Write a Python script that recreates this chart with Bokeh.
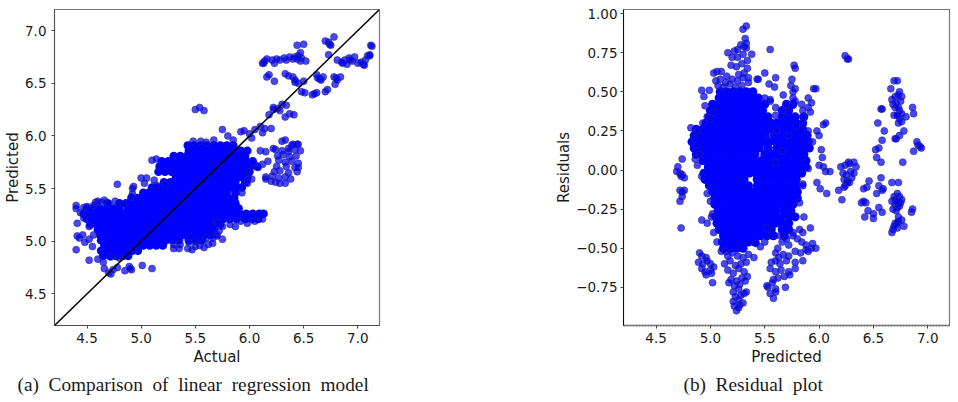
from bokeh.embed import file_html
from bokeh.resources import INLINE
from bokeh.plotting import figure
from bokeh.layouts import row
from bokeh.models import Title, FixedTicker, CustomJSTickFormatter

# ---------- panel (a): actual vs predicted ----------
a_levels = [4.86, 4.91, 4.96, 5.01, 5.06, 5.11, 5.16, 5.21, 5.26, 5.31, 5.36, 5.41, 5.46, 5.51, 5.56, 5.61, 5.66, 5.71, 5.76, 5.81, 5.86, 5.91]
a_rows = [
    [4.65, 4.71, 4.77, 4.83, 4.88],
    [4.63, 4.68, 4.74, 4.80, 4.86, 4.92, 4.97],
    [4.66, 4.72, 4.78, 4.84, 4.90, 4.96, 5.02, 5.08, 5.14, 5.20],
    [4.63, 4.69, 4.75, 4.81, 4.87, 4.93, 4.99, 5.05, 5.11, 5.17, 5.23, 5.29, 5.35, 5.44, 5.50, 5.56],
    [4.62, 4.68, 4.74, 4.80, 4.86, 4.92, 4.98, 5.04, 5.10, 5.16, 5.22, 5.28, 5.34, 5.40, 5.46, 5.52, 5.58, 5.64],
    [4.60, 4.65, 4.71, 4.77, 4.83, 4.89, 4.95, 5.01, 5.07, 5.13, 5.19, 5.25, 5.31, 5.37, 5.43, 5.49, 5.55, 5.61, 5.67],
    [4.53, 4.59, 4.65, 4.71, 4.77, 4.83, 4.89, 4.95, 5.01, 5.07, 5.13, 5.19, 5.25, 5.31, 5.37, 5.43, 5.49, 5.55, 5.61, 5.67, 5.73],
    [4.50, 4.56, 4.62, 4.68, 4.74, 4.80, 4.86, 4.92, 4.98, 5.04, 5.10, 5.16, 5.22, 5.28, 5.34, 5.40, 5.46, 5.52, 5.58, 5.64, 5.70, 5.76, 5.82, 5.88, 5.96, 6.02, 6.08],
    [4.47, 4.53, 4.59, 4.65, 4.71, 4.77, 4.83, 4.89, 4.95, 5.01, 5.07, 5.13, 5.19, 5.25, 5.31, 5.37, 5.43, 5.49, 5.55, 5.61, 5.67, 5.73, 5.79, 5.85, 5.91, 5.97, 6.03, 6.09, 6.13],
    [4.50, 4.56, 4.62, 4.68, 4.74, 4.80, 4.88, 4.94, 5.00, 5.06, 5.12, 5.18, 5.24, 5.30, 5.36, 5.42, 5.48, 5.54, 5.60, 5.66, 5.72, 5.78, 5.84, 5.90],
    [4.69, 4.80, 4.86, 4.92, 4.98, 5.04, 5.10, 5.16, 5.22, 5.28, 5.34, 5.40, 5.46, 5.52, 5.58, 5.64, 5.70, 5.76, 5.82, 5.87],
    [4.91, 4.97, 5.03, 5.09, 5.15, 5.21, 5.27, 5.33, 5.39, 5.45, 5.51, 5.57, 5.63, 5.69, 5.75, 5.81, 5.86],
    [5.02, 5.07, 5.13, 5.19, 5.25, 5.31, 5.37, 5.43, 5.49, 5.55, 5.61, 5.67, 5.73, 5.79, 5.87],
    [5.10, 5.16, 5.22, 5.28, 5.34, 5.40, 5.46, 5.52, 5.58, 5.64, 5.70, 5.76, 5.82, 5.88, 5.93],
    [5.21, 5.27, 5.33, 5.39, 5.45, 5.51, 5.57, 5.63, 5.69, 5.75, 5.81, 5.87, 5.96],
    [5.32, 5.38, 5.44, 5.50, 5.56, 5.62, 5.68, 5.74, 5.80, 5.86, 5.92, 5.98],
    [5.16, 5.22, 5.28, 5.34, 5.40, 5.46, 5.52, 5.58, 5.64, 5.70, 5.76, 5.82, 5.88, 5.94, 6.00],
    [5.17, 5.23, 5.29, 5.35, 5.41, 5.47, 5.53, 5.59, 5.65, 5.71, 5.77, 5.83, 5.89, 5.95, 6.01, 6.07],
    [5.19, 5.25, 5.31, 5.37, 5.43, 5.49, 5.55, 5.61, 5.67, 5.73, 5.79, 5.85, 5.91, 5.97, 6.03],
    [5.30, 5.36, 5.42, 5.48, 5.54, 5.60, 5.66, 5.72, 5.78, 5.84, 5.90, 5.96],
    [5.44, 5.50, 5.56, 5.62, 5.68, 5.74, 5.80, 5.86, 5.92, 5.98],
    [5.43, 5.49, 5.55, 5.61, 5.67, 5.73, 5.79, 5.85],
]
a_edge_x = [4.44, 4.47, 4.50, 4.53, 4.56, 4.47, 4.52, 4.58, 4.60, 4.56, 4.52, 4.63, 4.66, 4.70, 4.76, 4.84, 4.91, 4.93, 5.03, 5.14, 5.30, 5.36, 5.44, 5.50, 5.60, 5.66, 5.70, 5.72, 5.75, 5.82, 5.87, 5.92, 5.98, 6.05, 6.12, 5.98, 6.02, 6.05, 6.08, 6.12, 6.00, 6.03, 5.93, 5.98,
    4.40, 4.40, 4.41, 4.40, 4.43, 4.46, 4.48, 4.41, 4.52, 4.55, 4.60, 4.65, 4.72, 4.80, 4.78, 4.92, 4.92, 4.66, 4.70, 4.72, 4.74, 4.78, 4.85, 4.89, 4.91, 4.90, 5.01, 5.10,
    5.10, 5.14, 5.05, 5.00, 5.12, 5.22, 5.30, 5.35, 5.43, 5.47, 5.50, 5.54, 5.58, 5.62, 5.66, 5.70, 5.75, 5.69, 5.71, 5.48, 5.55, 5.60, 5.67, 5.75, 5.80, 5.85, 5.92, 5.95, 6.00, 6.05, 6.10, 6.14, 6.02, 6.12, 6.20,
    6.15, 6.21, 6.27, 6.33, 6.38, 6.23, 6.28, 6.36, 6.44, 6.25, 6.34, 6.42, 6.17, 6.27, 6.33, 6.39, 6.45, 6.26, 6.31, 6.37, 6.43, 6.10, 6.15, 6.24, 6.30, 6.36, 6.42, 6.47, 6.39, 6.45,
    6.22, 6.30, 6.33, 6.40, 6.44, 6.36, 6.24, 6.15, 6.20, 6.28, 6.45, 6.33,
    5.50, 5.54, 5.58, 6.18, 6.22, 6.26, 6.30, 6.34, 6.37, 6.41, 6.28, 6.22, 6.33]
a_edge_y = [5.27, 5.32, 5.33, 5.30, 5.34, 5.22, 5.14, 5.37, 5.38, 5.06, 5.02, 5.37, 5.39, 5.36, 5.38, 5.35, 5.42, 5.52, 5.55, 5.53, 4.97, 4.97, 4.99, 5.00, 5.03, 5.03, 5.06, 5.10, 5.14, 5.16, 5.14, 5.19, 5.17, 5.19, 5.21, 5.58, 5.59, 5.72, 5.70, 5.73, 5.66, 5.75, 5.46, 5.55,
    5.34, 5.31, 5.17, 4.92, 5.03, 5.06, 4.99, 5.05, 4.82, 4.95, 4.83, 4.80, 4.85, 4.84, 5.54, 5.50, 5.45, 4.74, 4.70, 4.69, 4.73, 4.75, 4.72, 4.76, 4.73, 4.74, 4.77, 4.74,
    5.77, 5.78, 5.60, 5.60, 5.58, 5.54, 4.93, 4.93, 4.93, 4.92, 4.95, 4.96, 4.94, 4.97, 4.98, 5.05, 5.02, 5.19, 5.17, 5.95, 5.95, 5.94, 5.96, 6.06, 6.00, 5.96, 6.04, 6.05, 6.02, 6.06, 6.09, 6.07, 5.98, 6.03, 6.07,
    5.61, 5.62, 5.60, 5.61, 5.59, 5.66, 5.67, 5.65, 5.66, 5.71, 5.71, 5.70, 5.76, 5.77, 5.75, 5.76, 5.74, 5.81, 5.82, 5.80, 5.81, 5.86, 5.85, 5.87, 5.86, 5.85, 5.87, 5.86, 5.91, 5.92,
    5.88, 5.95, 5.96, 5.92, 5.92, 5.88, 5.56, 5.59, 5.57, 5.55, 5.70, 5.55,
    6.25, 6.27, 6.24, 6.20, 6.25, 6.26, 6.30, 6.29, 6.21, 6.20, 6.24, 6.27, 6.18]
a_top_x = [6.12, 6.14, 6.16, 6.13, 6.21, 6.23, 6.25, 6.28, 6.32, 6.34, 6.37, 6.40, 6.42, 6.45, 6.47, 6.44, 6.50, 6.47, 6.52, 6.44, 6.48,
    6.16, 6.18, 6.23, 6.33, 6.36, 6.40, 6.42, 6.45, 6.50, 6.42, 6.48, 6.51, 6.58, 6.62, 6.60,
    6.62, 6.65, 6.68, 6.66, 6.63, 6.72, 6.70, 6.78, 6.80, 6.84, 6.79, 6.81,
    6.70, 6.73, 6.78, 6.74, 6.75, 6.73, 6.81, 6.86, 6.88, 6.92, 6.95, 6.97, 6.93, 7.00, 7.05, 7.07, 7.09, 7.11, 7.13, 7.12, 7.11, 7.06, 7.03, 6.90, 6.85]
a_top_y = [6.69, 6.71, 6.73, 6.69, 6.72, 6.69, 6.73, 6.72, 6.74, 6.72, 6.75, 6.73, 6.75, 6.76, 6.79, 6.86, 6.87, 6.71, 6.71, 6.73, 6.74,
    6.56, 6.58, 6.52, 6.59, 6.57, 6.56, 6.51, 6.50, 6.52, 6.53, 6.42, 6.41, 6.39, 6.41, 6.40,
    6.58, 6.54, 6.56, 6.53, 6.55, 6.44, 6.42, 6.56, 6.55, 6.56, 6.49, 6.53,
    6.90, 6.89, 6.94, 6.87, 6.86, 6.77, 6.72, 6.69, 6.72, 6.74, 6.71, 6.75, 6.72, 6.69, 6.68, 6.72, 6.76, 6.77, 6.85, 6.86, 6.76, 6.67, 6.70, 6.68, 6.70]
diagonal = [4.2, 7.2]

# ---------- panel (b): predicted vs residuals ----------
b_levels = [0.50, 0.46, 0.42, 0.38, 0.34, 0.30, 0.26, 0.22, 0.18, 0.14, 0.10, 0.06, 0.02, -0.02, -0.06, -0.10, -0.14, -0.18, -0.22, -0.26, -0.30, -0.34, -0.38, -0.42, -0.46, -0.50]
b_rows = [
    [5.09, 5.15, 5.21, 5.27, 5.33, 5.39],
    [5.08, 5.14, 5.20, 5.26, 5.32, 5.38, 5.44],
    [5.02, 5.08, 5.14, 5.20, 5.26, 5.32, 5.38, 5.44, 5.50, 5.70, 5.76],
    [5.00, 5.06, 5.12, 5.18, 5.24, 5.30, 5.36, 5.42, 5.48, 5.66, 5.72],
    [4.99, 5.05, 5.11, 5.17, 5.23, 5.29, 5.35, 5.41, 5.47, 5.53, 5.66, 5.72, 5.78, 5.86],
    [4.96, 5.02, 5.08, 5.14, 5.20, 5.26, 5.32, 5.38, 5.44, 5.50, 5.56, 5.61, 5.67, 5.73, 5.79, 5.85],
    [4.87, 4.93, 4.99, 5.05, 5.11, 5.17, 5.23, 5.29, 5.35, 5.41, 5.47, 5.53, 5.57, 5.62, 5.68, 5.74, 5.80, 5.85],
    [4.85, 4.91, 4.97, 5.03, 5.09, 5.15, 5.21, 5.27, 5.33, 5.39, 5.45, 5.50, 5.59, 5.65, 5.71, 5.77, 5.83, 5.89],
    [4.83, 4.89, 4.95, 5.01, 5.07, 5.13, 5.19, 5.25, 5.31, 5.37, 5.43, 5.48, 5.54, 5.60, 5.66, 5.72, 5.78, 5.84, 5.90],
    [4.85, 4.91, 4.97, 5.03, 5.09, 5.15, 5.21, 5.27, 5.33, 5.39, 5.45, 5.53, 5.61, 5.67, 5.73, 5.79, 5.85, 5.91],
    [4.87, 4.93, 4.99, 5.05, 5.11, 5.17, 5.23, 5.29, 5.35, 5.41, 5.50, 5.56, 5.62, 5.68, 5.74, 5.80, 5.86],
    [4.93, 4.99, 5.05, 5.11, 5.17, 5.23, 5.29, 5.35, 5.41, 5.47, 5.53, 5.59, 5.65, 5.71, 5.77, 5.83, 5.88],
    [4.98, 5.04, 5.10, 5.16, 5.22, 5.28, 5.34, 5.40, 5.46, 5.52, 5.58, 5.64, 5.70, 5.76, 5.82, 5.88],
    [4.94, 5.00, 5.06, 5.12, 5.18, 5.24, 5.30, 5.36, 5.42, 5.48, 5.54, 5.60, 5.66, 5.72, 5.78, 5.84],
    [4.95, 5.01, 5.07, 5.13, 5.19, 5.25, 5.31, 5.43, 5.49, 5.55, 5.61, 5.67, 5.73, 5.79],
    [4.99, 5.05, 5.11, 5.17, 5.23, 5.29, 5.35, 5.43, 5.49, 5.55, 5.61, 5.67, 5.73, 5.79],
    [5.02, 5.08, 5.14, 5.20, 5.26, 5.32, 5.38, 5.44, 5.50, 5.56, 5.62, 5.68, 5.74, 5.80],
    [5.04, 5.10, 5.16, 5.22, 5.28, 5.34, 5.40, 5.46, 5.52, 5.58, 5.64, 5.70, 5.76, 5.80],
    [5.04, 5.10, 5.16, 5.22, 5.28, 5.34, 5.40, 5.46, 5.52, 5.58, 5.64, 5.70, 5.76],
    [5.07, 5.13, 5.19, 5.25, 5.31, 5.37, 5.43, 5.49, 5.54, 5.60, 5.68, 5.74],
    [5.05, 5.11, 5.17, 5.23, 5.29, 5.35, 5.41, 5.47, 5.53, 5.59, 5.65, 5.72, 5.78],
    [5.06, 5.12, 5.18, 5.24, 5.30, 5.36, 5.42, 5.48, 5.54, 5.60, 5.66, 5.72],
    [5.08, 5.14, 5.20, 5.26, 5.32, 5.38, 5.44, 5.50, 5.56, 5.66, 5.72],
    [5.12, 5.18, 5.24, 5.30, 5.36, 5.42, 5.46, 5.52, 5.58, 5.68],
    [5.11, 5.17, 5.23, 5.29, 5.35, 5.41],
    [5.12, 5.18, 5.24, 5.30],
]
b_edge_x = [4.82, 4.85, 4.88, 4.87, 4.86, 4.88, 4.93, 4.97, 5.00, 5.03, 4.90, 4.92, 4.97, 5.00, 5.02, 5.60, 5.66, 5.72, 5.79, 5.85, 5.90, 5.94, 5.98, 6.00, 6.02, 6.04, 6.06, 6.03, 6.00, 6.04, 6.06, 6.10, 5.98, 6.01, 6.07, 5.90, 5.85, 5.54, 5.61, 5.82, 5.85,
    5.86, 5.82, 5.76, 5.70, 5.64, 5.52, 5.46, 5.42, 5.50, 5.56, 5.62, 5.66, 5.72, 5.76, 5.80, 5.85, 5.92, 5.94, 5.97, 5.90, 5.93, 5.84, 5.88,
    5.10, 5.03, 4.92, 4.97, 5.01, 5.06]
b_edge_y = [0.27, 0.20, 0.25, 0.12, 0.07, 0.03, 0.30, 0.34, 0.33, 0.37, 0.10, -0.04, -0.15, -0.20, -0.28, 0.05, 0.12, 0.22, 0.28, 0.30, 0.25, 0.18, 0.25, 0.22, 0.13, 0.29, 0.30, 0.08, 0.03, 0.02, -0.01, -0.01, -0.08, -0.12, -0.15, 0.01, -0.09, 0.22, 0.25, -0.21, -0.10,
    -0.30, -0.38, -0.40, -0.44, -0.42, -0.37, -0.49, -0.47, -0.46, -0.42, -0.50, -0.46, -0.48, -0.42, -0.44, -0.40, -0.37, -0.47, -0.50, -0.52, -0.50, -0.46, -0.48,
    -0.52, -0.40, -0.32, -0.34, -0.30, -0.46]
b_upper_x = [5.33, 5.30, 5.32, 5.28, 5.31, 5.33, 5.22, 5.25, 5.33, 5.55, 5.16, 5.20, 5.25, 5.30, 5.34, 5.38, 5.19, 5.24, 5.29, 5.34, 5.03, 5.06, 5.10, 5.15, 5.26, 5.31, 5.35, 5.43, 5.50, 5.05, 5.09, 5.14, 5.20, 5.25, 5.30, 5.35, 5.44, 5.60, 5.75, 5.07, 5.12, 5.18, 5.23, 5.29, 5.54, 5.59, 5.74, 5.78, 4.92, 4.99, 4.94, 4.95, 5.67, 5.77, 5.78, 5.76, 5.95, 5.97, 5.55, 5.60,
    5.76, 5.76, 5.78, 5.50, 5.55, 5.90, 5.93, 5.84, 5.90, 5.85, 5.92, 5.66, 5.72, 5.85, 5.70, 5.75, 5.60]
b_upper_y = [0.92, 0.90, 0.84, 0.80, 0.79, 0.81, 0.76, 0.77, 0.78, 0.77, 0.75, 0.72, 0.72, 0.74, 0.70, 0.74, 0.67, 0.66, 0.68, 0.65, 0.62, 0.63, 0.63, 0.60, 0.61, 0.62, 0.59, 0.58, 0.62, 0.57, 0.58, 0.56, 0.58, 0.57, 0.59, 0.56, 0.58, 0.59, 0.58, 0.54, 0.53, 0.55, 0.53, 0.54, 0.55, 0.53, 0.54, 0.52, 0.51, 0.51, 0.47, 0.41, 0.48, 0.67, 0.65, 0.50, 0.52, 0.52, 0.45, 0.35,
    0.46, 0.42, 0.44, 0.46, 0.44, 0.46, 0.43, 0.42, 0.40, 0.38, 0.37, 0.38, 0.37, 0.34, 0.42, 0.41, 0.40]
b_lower_x = [4.90, 4.92, 4.96, 4.89, 4.93, 4.97, 5.00, 4.92, 4.95, 5.00, 5.03, 4.96, 5.01, 5.02, 5.14, 5.16, 5.20, 5.25, 5.30, 5.35, 5.40, 5.13, 5.18, 5.23, 5.28, 5.33, 5.16, 5.21, 5.26, 5.31, 5.19, 5.24, 5.29, 5.34, 5.17, 5.22, 5.27, 5.32, 5.21, 5.26, 5.31, 5.23, 5.28, 5.33, 5.21, 5.26, 5.30, 5.22, 5.27, 5.24, 5.26,
    5.60, 5.63, 5.67, 5.72, 5.78, 5.83, 5.88, 5.56, 5.60, 5.64, 5.70, 5.78, 5.85, 5.55, 5.60, 5.65, 5.72, 5.78, 5.53, 5.58, 5.62, 5.68, 5.73, 5.52, 5.57, 5.60, 5.69, 5.55, 5.60, 5.58,
    4.74, 4.70, 4.69, 4.72, 4.74, 4.73, 4.76, 4.72, 4.74, 4.76, 4.74, 4.72, 4.73]
b_lower_y = [-0.53, -0.55, -0.56, -0.59, -0.60, -0.58, -0.60, -0.63, -0.65, -0.64, -0.62, -0.67, -0.66, -0.72, -0.52, -0.55, -0.53, -0.55, -0.56, -0.54, -0.56, -0.60, -0.58, -0.61, -0.60, -0.59, -0.64, -0.66, -0.63, -0.65, -0.70, -0.71, -0.69, -0.68, -0.72, -0.74, -0.73, -0.71, -0.78, -0.76, -0.79, -0.81, -0.80, -0.78, -0.84, -0.83, -0.85, -0.87, -0.86, -0.90, -0.88,
    -0.53, -0.56, -0.54, -0.55, -0.52, -0.53, -0.51, -0.59, -0.58, -0.60, -0.58, -0.59, -0.58, -0.63, -0.65, -0.64, -0.65, -0.63, -0.75, -0.70, -0.69, -0.68, -0.67, -0.74, -0.72, -0.76, -0.75, -0.79, -0.78, -0.82,
    0.07, 0.02, -0.01, -0.02, -0.03, -0.04, -0.05, -0.13, -0.14, -0.13, -0.17, -0.20, -0.37]
b_right_x = [6.24, 6.26, 6.27, 6.20, 6.24, 6.27, 6.28, 6.32, 6.34, 6.22, 6.25, 6.29, 6.32, 6.23, 6.26, 6.30, 6.24, 6.26, 6.18, 6.23, 6.28, 6.21, 6.46, 6.44, 6.41, 6.43, 6.39, 6.41, 6.45, 6.42, 6.50, 6.54, 6.57, 6.58, 6.60, 6.52, 6.53, 6.57, 6.58, 6.55, 6.57, 6.59, 6.58, 6.55, 6.53, 6.50, 6.58, 6.55,
    6.66, 6.69, 6.72, 6.74, 6.76, 6.67, 6.70, 6.73, 6.75, 6.68, 6.71, 6.74, 6.69, 6.72, 6.74, 6.76, 6.71, 6.74, 6.78, 6.72, 6.80, 6.86, 6.87, 6.70, 6.73, 6.76, 6.73, 6.70, 6.90, 6.91, 6.93, 6.94, 6.87, 6.77,
    6.67, 6.69, 6.72, 6.74, 6.67, 6.70, 6.73, 6.76, 6.70, 6.72, 6.75, 6.68, 6.71, 6.74, 6.73, 6.72, 6.70, 6.73, 6.68, 6.72, 6.67, 6.69, 6.72, 6.76, 6.78, 6.85, 6.86, 6.73]
b_right_y = [0.73, 0.71, 0.71, 0.02, 0.03, 0.05, 0.04, 0.05, 0.02, -0.02, -0.03, -0.01, -0.02, -0.06, -0.07, -0.05, -0.10, -0.08, -0.13, -0.11, -0.08, -0.19, -0.07, -0.11, -0.12, -0.21, -0.21, -0.20, -0.26, -0.30, -0.31, 0.30, 0.39, 0.39, 0.25, 0.13, 0.08, 0.05, 0.19, 0.14, -0.05, -0.12, -0.13, -0.10, -0.15, -0.28, -0.27, -0.24,
    0.52, 0.57, 0.57, 0.50, 0.47, 0.45, 0.47, 0.48, 0.44, 0.42, 0.43, 0.38, 0.35, 0.35, 0.33, 0.31, 0.20, 0.22, 0.25, 0.35, 0.34, 0.40, 0.36, 0.40, 0.40, 0.36, 0.30, 0.20, 0.18, 0.16, 0.15, 0.14, 0.12, 0.05,
    -0.08, -0.17, -0.15, -0.17, -0.20, -0.19, -0.21, -0.19, -0.22, -0.24, -0.21, -0.25, -0.26, -0.23, -0.08, -0.20, -0.34, -0.33, -0.38, -0.37, -0.40, -0.36, -0.34, -0.32, -0.36, -0.27, -0.25, -0.30]

x_ticks = [4.5, 5.0, 5.5, 6.0, 6.5, 7.0]
a_y_ticks = [4.5, 5.0, 5.5, 6.0, 6.5, 7.0]
b_y_ticks = [-0.75, -0.50, -0.25, 0.00, 0.25, 0.50, 0.75, 1.00]
caption_a = "(a)\u00a0 Comparison\u00a0 of\u00a0 linear\u00a0 regression\u00a0 model"
caption_b = "(b)\u00a0 Residual\u00a0 plot"

def flatten(levels, rows):
    xs, ys = [], []
    for lev, r in zip(levels, rows):
        xs += r
        ys += [lev] * len(r)
    return xs, ys

def style(p, bottom_color, left_color, bottom_width=1.0, left_width=1.0):
    for ax in (p.xaxis[0], p.yaxis[0]):
        ax.major_tick_in = 0
        ax.major_tick_out = 3
        ax.minor_tick_in = 0
        ax.minor_tick_out = 0
        ax.major_label_text_font = "DejaVu Sans"
        ax.major_label_text_font_size = "13.5px"
        ax.major_label_text_color = "#1a1a1a"
        ax.axis_label_text_font = "DejaVu Sans"
        ax.axis_label_text_font_size = "15px"
        ax.axis_label_text_font_style = "normal"
        ax.axis_label_text_color = "#1a1a1a"
        ax.major_tick_line_color = "#444444"
    p.xaxis[0].axis_line_color = bottom_color
    p.xaxis[0].axis_line_width = bottom_width
    p.xaxis[0].axis_line_dash = "2 1"
    p.yaxis[0].axis_line_color = left_color
    p.yaxis[0].axis_line_width = left_width
    p.xaxis[0].axis_label_standoff = 2
    p.xaxis[0].major_label_standoff = 4
    p.yaxis[0].major_label_standoff = 4
    p.xaxis[0].formatter = CustomJSTickFormatter(code="return tick.toFixed(1);")
    p.xgrid.visible = False
    p.ygrid.visible = False
    p.background_fill_color = "white"
    p.border_fill_color = "white"
    p.outline_line_color = "#777777"
    p.outline_line_width = 1.2
    p.xaxis[0].ticker = FixedTicker(ticks=x_ticks)

SOLID_A = dict(size=8.5, fill_color="#0000ff", line_color=None)
SOLID_B = dict(size=9, fill_color="#0000ff", line_color=None)
POINT = dict(size=7, fill_color="#0000f0", fill_alpha=0.72, line_color="#2a2a9a", line_alpha=0.8, line_width=0.7)
CAPTION = dict(text_font="Liberation Serif", text_font_size="19.3px", text_font_style="normal", text_color="#1a1a1a", align="left")

# panel a
p1 = figure(frame_width=325, frame_height=316, output_backend="svg", toolbar_location=None,
            x_range=(4.2, 7.2), y_range=(4.2, 7.2), x_axis_label="Actual", y_axis_label="Predicted",
            min_border_left=54, min_border_right=99, min_border_top=9, min_border_bottom=20)
style(p1, "#333333", "#555555")
p1.yaxis[0].ticker = FixedTicker(ticks=a_y_ticks)
p1.yaxis[0].formatter = CustomJSTickFormatter(code="return tick.toFixed(1);")
p1.yaxis[0].axis_label_standoff = 0
p1.yaxis[0].major_label_standoff = 5
cx, cy = flatten(a_levels, a_rows)
p1.scatter(cx, cy, **SOLID_A)
p1.scatter(a_edge_x + a_top_x, a_edge_y + a_top_y, **POINT)
p1.line(diagonal, diagonal, line_color="black", line_width=1.5)
p1.add_layout(Title(text=caption_a, offset=-37, standoff=7, **CAPTION), "below")

# panel b
p2 = figure(frame_width=326, frame_height=316, output_backend="svg", toolbar_location=None,
            x_range=(4.2, 7.2), y_range=(-0.994, 1.026), x_axis_label="Predicted", y_axis_label="Residuals",
            min_border_left=145, min_border_right=7, min_border_top=9, min_border_bottom=20)
style(p2, "#777777", "#111111", bottom_width=2.0)
p2.yaxis[0].ticker = FixedTicker(ticks=b_y_ticks)
p2.yaxis[0].formatter = CustomJSTickFormatter(code="return tick.toFixed(2).replace('-', '\\u2212');")
p2.yaxis[0].axis_label_standoff = 0
p2.yaxis[0].major_label_standoff = 3
bx, by = flatten(b_levels, b_rows)
p2.scatter(bx, by, **SOLID_B)
p2.scatter(b_edge_x + b_upper_x + b_lower_x + b_right_x, b_edge_y + b_upper_y + b_lower_y + b_right_y, **POINT)
p2.add_layout(Title(text=caption_b, offset=60, standoff=7, **CAPTION), "below")

open("out.html", "w").write(file_html(row(p1, p2), INLINE))
